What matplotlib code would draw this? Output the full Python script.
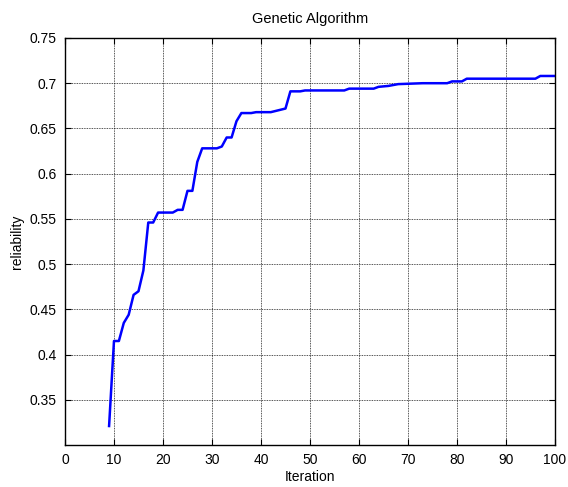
import matplotlib
matplotlib.use("Agg")
import matplotlib.pyplot as plt

# best reliability per iteration (vertices)
iterations = [9, 10, 11, 12, 13, 14, 15, 16, 17, 18, 19, 22, 23, 24, 25, 26, 27, 28,
              31, 32, 33, 34, 35, 36, 38, 39, 42, 45, 46, 48, 49, 57, 58, 63, 64, 66,
              68, 73, 78, 79, 81, 82, 96, 97, 100]
reliability = [0.321, 0.415, 0.415, 0.435, 0.444, 0.466, 0.470, 0.493, 0.546, 0.546,
               0.557, 0.557, 0.560, 0.560, 0.581, 0.581, 0.613, 0.628, 0.628, 0.630,
               0.640, 0.640, 0.658, 0.667, 0.667, 0.668, 0.668, 0.672, 0.691, 0.691,
               0.692, 0.692, 0.694, 0.694, 0.696, 0.697, 0.699, 0.700, 0.700, 0.702,
               0.702, 0.705, 0.705, 0.708, 0.708]

x_ticks = list(range(0, 101, 10))
y_ticks = [0.35, 0.4, 0.45, 0.5, 0.55, 0.6, 0.65, 0.7, 0.75]
y_labels = ['0.35', '0.4', '0.45', '0.5', '0.55', '0.6', '0.65', '0.7', '0.75']

plt.rcParams['font.family'] = ['Liberation Sans', 'DejaVu Sans']
plt.rcParams['font.size'] = 10

fig = plt.figure(figsize=(5.68, 4.87), dpi=100)
ax = fig.add_axes([0.1144, 0.0862, 0.8627, 0.8358])

ax.plot(iterations, reliability, color=(0, 0, 1), linewidth=1.8)

ax.set_xlim(0, 100)
ax.set_ylim(0.3, 0.75)
ax.set_xticks(x_ticks)
ax.set_yticks(y_ticks)
ax.set_yticklabels(y_labels)
ax.tick_params(direction='in', top=True, right=True, length=4, width=0.8, pad=6)
ax.grid(True, color='black', linestyle=(0, (1, 1)), linewidth=0.6, alpha=0.9)
for s in ax.spines.values():
    s.set_linewidth(1.0)

ax.set_title('Genetic Algorithm', fontsize=10.5, pad=11)
ax.set_xlabel('Iteration', labelpad=2)
ax.set_ylabel('reliability', labelpad=4)

fig.savefig('out.png', dpi=100)
